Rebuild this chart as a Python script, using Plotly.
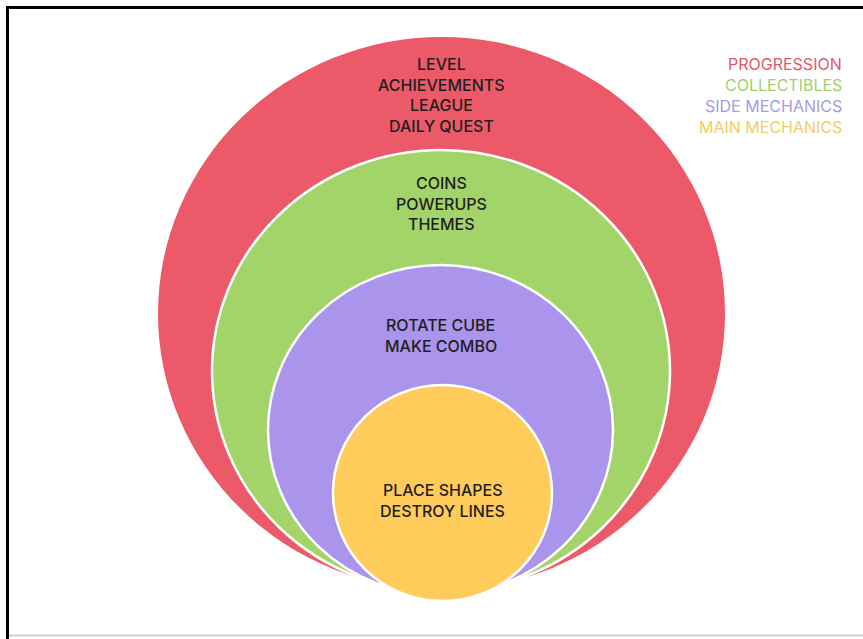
import plotly.graph_objects as go

# ---- data ----
layers = ["PROGRESSION", "COLLECTIBLES", "SIDE MECHANICS", "MAIN MECHANICS"]
items = [
    ["LEVEL", "ACHIEVEMENTS", "LEAGUE", "DAILY QUEST"],
    ["COINS", "POWERUPS", "THEMES"],
    ["ROTATE CUBE", "MAKE COMBO"],
    ["PLACE SHAPES", "DESTROY LINES"],
]
fill_colors = ["#EC5A69", "#A3D46A", "#AA94EC", "#FFCC5B"]
legend_colors = ["#E05A6C", "#9FD070", "#A49CE6", "#F2CD66"]

# geometry of each layer (left, right, top, bottom) in pixels
left = [158, 212, 268, 333]
right = [725, 670, 613, 552]
top = [37, 150, 265, 385]
bottom = [590, 592, 595, 601]
text_first_line = [64, 183, 325, 490]
line_step = 20.7

W, H = 863, 639
fig = go.Figure()
fig.add_trace(go.Scatter(x=[0, W], y=[0, H], mode="markers",
                         marker=dict(opacity=0), hoverinfo="skip", showlegend=False))

shapes = []
for i in range(len(layers)):
    shapes.append(dict(type="circle", xref="x", yref="y",
                       x0=left[i], x1=right[i], y0=top[i], y1=bottom[i],
                       fillcolor=fill_colors[i],
                       line=dict(color="white", width=0 if i == 0 else 2.5),
                       layer="below"))

# frame
shapes.append(dict(type="line", xref="x", yref="y", x0=7.5, x1=7.5, y0=6, y1=H,
                   line=dict(color="black", width=3)))
shapes.append(dict(type="line", xref="x", yref="y", x0=6, x1=W, y0=7.5, y1=7.5,
                   line=dict(color="black", width=3)))
shapes.append(dict(type="line", xref="x", yref="y", x0=9, x1=W, y0=635.5, y1=635.5,
                   line=dict(color="#cfcfcf", width=2)))

FONT = "Inter, Roboto, sans-serif"
annotations = []
for i in range(len(layers)):
    cx = (left[i] + right[i]) / 2
    for j, t in enumerate(items[i]):
        annotations.append(dict(x=cx, y=text_first_line[i] + j * line_step, xref="x", yref="y",
                                text=t, showarrow=False, xanchor="center", yanchor="middle",
                                font=dict(family=FONT, size=16, weight=500,
                                          color="#1f1f1f")))

for i, name in enumerate(layers):
    annotations.append(dict(x=844, y=64 + i * 21, xref="x", yref="y", text=name,
                            showarrow=False, xanchor="right", yanchor="middle",
                            font=dict(family=FONT, size=16, weight=400,
                                      color=legend_colors[i])))

fig.update_layout(
    width=W, height=H,
    margin=dict(l=0, r=0, t=0, b=0),
    paper_bgcolor="white", plot_bgcolor="white",
    xaxis=dict(range=[0, W], visible=False, fixedrange=True),
    yaxis=dict(range=[H, 0], visible=False, fixedrange=True),
    shapes=shapes, annotations=annotations, showlegend=False,
)
fig.write_html("out.html", config={"displayModeBar": False},
               post_script="document.body.style.margin='0';document.body.style.overflow='hidden';")
